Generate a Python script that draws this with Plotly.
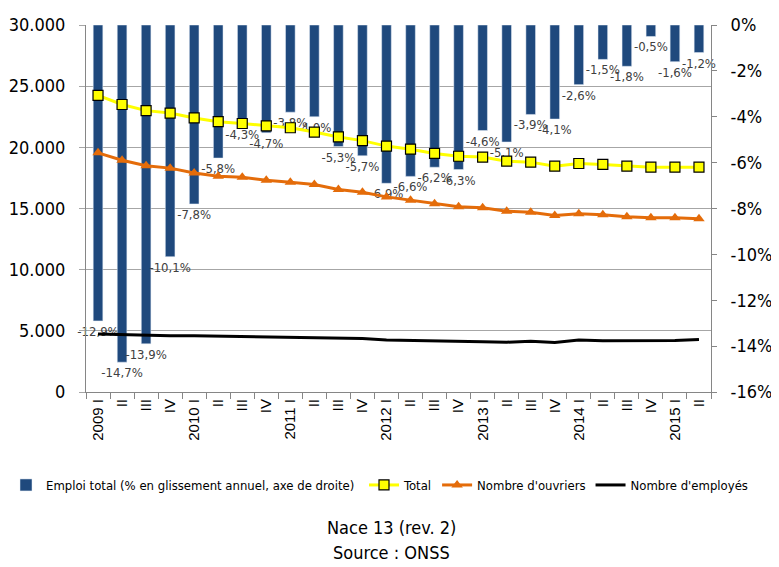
import plotly.graph_objects as go

quarters = ["2009 I", "II", "III", "IV", "2010 I", "II", "III", "IV",
            "2011 I", "II", "III", "IV", "2012 I", "II", "III", "IV",
            "2013 I", "II", "III", "IV", "2014 I", "II", "III", "IV",
            "2015 I", "II"]

emploi_pct = [-12.9, -14.7, -13.9, -10.1, -7.8, -5.8, -4.3, -4.7, -3.8, -4.0,
              -5.3, -5.7, -6.9, -6.6, -6.2, -6.3, -4.6, -5.1, -3.9, -4.1,
              -2.6, -1.5, -1.8, -0.5, -1.6, -1.2]

total = [24250, 23500, 23000, 22800, 22400, 22100, 21950, 21750, 21600, 21250,
         20850, 20550, 20100, 19850, 19500, 19270, 19200, 18870, 18790, 18460,
         18680, 18600, 18460, 18380, 18380, 18380]

ouvriers = [19550, 18940, 18500, 18300, 17900, 17640, 17550, 17300, 17140, 16960,
            16550, 16330, 15950, 15680, 15380, 15140, 15060, 14780, 14700, 14430,
            14570, 14490, 14320, 14240, 14240, 14160]

employes = [4750, 4700, 4620, 4600, 4590, 4560, 4540, 4520, 4500, 4450,
            4420, 4370, 4250, 4200, 4150, 4120, 4110, 4070, 4150, 4050,
            4250, 4180, 4200, 4210, 4200, 4300]

x = list(range(len(quarters)))
FONT = "DejaVu Sans Condensed, Liberation Sans Narrow, Liberation Sans, sans-serif"
XFONT = "Liberation Sans, Arial, sans-serif"

# page offset of the plotly div (browser default body margin)
OFF = 8
PL, PR, PT, PB = 86, 711, 25, 392   # plot area in page pixels
W, H = 779 - OFF, 567 - OFF

def px(page_x):
    return (page_x - PL) / (PR - PL)

def py(page_y):
    return (PB - page_y) / (PB - PT)

def fmt(v):
    return ("%.1f" % v).replace(".", ",") + "%"

fig = go.Figure()
fig.add_trace(go.Bar(
    x=x, y=emploi_pct, yaxis="y",
    name="Emploi total (% en glissement annuel, axe de droite)",
    marker=dict(color="#1F497D"),
    text=[fmt(v) for v in emploi_pct], textposition="outside",
    textfont=dict(size=13, color="#404040", family=FONT),
    constraintext="none",
    cliponaxis=False,
    legend="legend",
))
fig.add_trace(go.Scatter(
    x=x, y=total, yaxis="y2", name="Total", mode="lines+markers",
    line=dict(color="#FFFF00", width=3),
    marker=dict(symbol="square", size=10, color="#FFFF00",
                line=dict(color="#000000", width=1.2)),
    legend="legend2",
))
fig.add_trace(go.Scatter(
    x=x, y=ouvriers, yaxis="y2", name="Nombre d'ouvriers", mode="lines+markers",
    line=dict(color="#E46C0A", width=3),
    marker=dict(symbol="triangle-up", size=10, color="#E46C0A"),
    legend="legend2",
))
fig.add_trace(go.Scatter(
    x=x, y=employes, yaxis="y2", name="Nombre d'employés", mode="lines",
    line=dict(color="#000000", width=3),
    legend="legend2",
))

legend_common = dict(orientation="h", yanchor="middle", y=py(485),
                     font=dict(size=13, family=FONT, color="#000000"),
                     itemwidth=30, traceorder="normal",
                     bgcolor="rgba(0,0,0,0)", borderwidth=0)

fig.update_layout(
    width=W, height=H,
    margin=dict(l=PL - OFF, r=W - (PR - OFF), t=PT - OFF, b=H - (PB - OFF),
                autoexpand=False),
    paper_bgcolor="white", plot_bgcolor="white",
    separators=",.",
    font=dict(family=FONT, color="#000000"),
    bargap=0.6,
    showlegend=True,
    legend=dict(x=px(6), xanchor="left", **legend_common),
    legend2=dict(x=px(364), xanchor="left", **legend_common),
    xaxis=dict(
        range=[-0.5, len(quarters) - 0.5], automargin=False,
        tickmode="array", tickvals=x, ticktext=quarters, tickangle=-90,
        ticks="", tickfont=dict(size=15, family=XFONT),
        minor=dict(tickmode="array", tickvals=[i - 0.5 for i in range(len(quarters) + 1)],
                   ticks="outside", ticklen=6, tickcolor="#868686", showgrid=False),
        showline=True, linecolor="#868686", linewidth=1,
        showgrid=False, zeroline=False,
    ),
    yaxis=dict(
        side="right", range=[-16, 0], automargin=False,
        tickmode="array", tickvals=list(range(-16, 1, 2)),
        ticktext=[f"{v}%" for v in range(-16, 1, 2)],
        tickfont=dict(size=18, family=FONT),
        ticks="outside", ticklen=5, tickcolor="#868686", ticklabelstandoff=10,
        showline=True, linecolor="#868686", linewidth=1,
        showgrid=False, zeroline=False,
    ),
    yaxis2=dict(
        overlaying="y", side="left", range=[0, 30000], automargin=False,
        tickmode="array", tickvals=list(range(0, 30001, 5000)),
        tickformat=",d",
        tickfont=dict(size=18, family=FONT),
        ticks="outside", ticklen=6, tickcolor="#A6A6A6", ticklabelstandoff=10,
        showline=True, linecolor="#868686", linewidth=1,
        showgrid=True, gridcolor="#A6A6A6", gridwidth=1, zeroline=False,
    ),
    annotations=[
        dict(text="Nace 13 (rev. 2)", xref="paper", yref="paper",
             x=px(391), y=py(527), xanchor="center", yanchor="middle",
             showarrow=False, font=dict(size=18, family=FONT)),
        dict(text="Source : ONSS", xref="paper", yref="paper",
             x=px(391), y=py(552), xanchor="center", yanchor="middle",
             showarrow=False, font=dict(size=18, family=FONT)),
    ],
)

fig.write_html("out.html")
